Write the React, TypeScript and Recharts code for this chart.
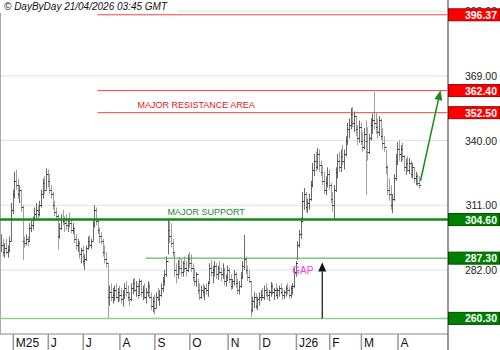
import React from 'react';
import { ComposedChart, Bar, XAxis, YAxis, CartesianGrid, ReferenceLine, ReferenceDot } from 'recharts';

// daily bars as [high, low, close], one small array per month
const apr25 = [[298, 290, 293], [296, 288, 290], [294, 287.5, 292], [296, 289, 290], [293, 287.5, 291], [297, 290, 295], [312, 295, 309], [318, 307, 316]];
const may25 = [[326, 314, 322], [327, 318, 320], [323, 314, 316], [320, 312, 318], [318, 308, 310], [311, 286.5, 295], [297, 292, 294], [298, 293, 296], [297, 292.5, 295], [303, 295, 301], [304, 299, 302], [306, 300, 305], [310, 304, 307], [312, 305, 309], [311, 305, 307], [313, 306, 311], [318, 310, 316], [323, 314, 321], [324, 316, 318], [327.5, 318, 325], [327, 319, 322]];
const jun25 = [[325, 316, 318], [320, 314, 316], [317, 309, 311], [313, 306, 308], [310, 304.5, 306], [307, 291, 297], [303, 296, 301], [307, 300, 305], [309, 302, 304], [306, 299, 303], [307, 300, 302], [305, 299, 304], [307.5, 301, 303], [305, 298.5, 300], [303, 298, 301], [301, 294, 296], [298, 291, 293], [296, 290, 294], [295, 287, 289], [292, 285, 291], [293, 284, 286]];
const jul25 = [[289, 282, 287], [293, 286, 292], [297, 291, 295], [297.5, 292, 293], [296, 291.5, 295], [304, 295, 302], [311, 301, 309], [310, 302, 304], [305, 298, 300], [301, 294, 297], [299, 293.5, 295], [296, 288, 290], [293, 285, 287], [290, 283, 285], [285, 260.5, 270], [275, 266, 272], [276, 268, 270], [274, 267, 271], [275, 268, 273], [276, 269, 270], [274, 267.5, 272], [275, 268, 271]];
const aug25 = [[274, 267, 269], [273, 265.5, 271], [276, 269, 274], [277, 270, 272], [275, 268, 270], [272, 266, 269], [276, 268, 274], [278, 271, 276], [278.5, 272, 273], [277, 270, 275], [276, 269, 271], [278, 271, 277], [277.5, 270, 272], [275, 268.5, 273], [276, 269, 270], [274, 267, 272], [277, 270, 275], [276, 269, 270], [272, 264, 266], [270, 263, 268], [271, 262, 265]];
const sep25 = [[272, 265, 270], [274, 268, 269], [273, 266, 271], [276, 270, 274], [279, 272, 277], [282, 275, 280], [288, 279, 286], [305, 289, 300], [304, 294, 297], [303, 292, 294], [296, 288, 290], [290, 279, 282], [285, 276, 280], [286.5, 278, 284], [287.8, 280, 283], [287, 279, 281], [286, 279, 285], [288, 281, 283], [286, 279, 282], [289, 281, 287], [290, 283, 285]];
const oct25 = [[289, 281, 283], [285, 277, 279], [283, 275, 277], [281, 274.5, 280], [278, 271, 273], [276, 268.6, 270], [275, 269, 273], [276, 270, 272], [275, 268.5, 274], [276, 271, 273], [277, 270, 276], [285, 276, 283], [286.5, 279, 281], [284, 276, 282], [286, 279, 284], [285, 278, 280], [284, 277.5, 283], [286, 280, 281], [283, 277, 280], [285, 278, 282], [283, 275, 277], [280, 274.5, 279], [284, 277, 282]];
const nov25 = [[283, 276, 278], [280, 273, 275], [278, 273.5, 277], [282, 275, 280], [281, 274, 276], [278, 271, 273], [277, 271, 275], [281, 274, 279], [286, 278, 284], [297.7, 282, 287], [288, 280, 282], [284, 277, 279], [282, 276, 277], [277, 261, 264], [270, 263, 268], [272, 265, 270], [271.5, 264.5, 266], [270, 264, 269], [272, 266, 270]];
const dec25 = [[273, 268, 271], [274, 269, 270], [275, 268.5, 273], [276, 270, 272], [274, 268.6, 271], [273, 268, 272], [276.6, 270, 275], [276, 271, 272], [274, 268.6, 273], [276, 270, 271], [274, 269, 273], [275, 270, 274], [276, 271, 272], [274, 268.6, 271], [273, 269, 272], [275, 270, 274], [276, 271, 273], [274.4, 269, 271], [275, 269.5, 274], [276, 271, 275], [283, 274, 281], [286, 279, 285]];
const jan26 = [[295, 286.5, 293], [300, 292, 298], [305.5, 296, 304], [317, 304.5, 313], [318.7, 309, 316], [317, 308, 310], [314, 307.5, 312], [316, 309, 314], [322, 313, 320], [330, 319, 327], [334, 324, 331], [335, 326, 328], [336.7, 327, 334], [336, 326, 329], [331, 324, 326], [329, 320, 322], [326, 316, 318], [324, 315.6, 321], [328, 319, 325], [327, 318, 320]];
const feb26 = [[321, 312, 314], [317, 308, 311], [320, 304.4, 318], [328, 317, 326], [334, 323, 331], [335, 326, 328], [336, 325.9, 333], [338, 329, 331], [336, 327, 334], [342, 333, 340], [348, 338, 345], [350, 341, 347], [354.6, 345, 352], [355, 346, 348], [353, 343.8, 351], [351, 342, 345], [347, 338, 341], [349, 339, 346], [348, 338, 340]];
const mar26 = [[344, 334.9, 337], [345.6, 336, 343], [349, 315.6, 340], [346, 331, 335], [343, 334, 341], [350, 340, 347], [352, 343, 349], [361.7, 345, 348], [352.3, 343, 346], [350, 341, 344], [351, 342, 349], [350, 340.2, 342], [345.6, 336, 339], [342, 334.9, 337], [336, 325, 328], [329, 315.6, 318], [323, 313, 316], [320, 309, 311], [316, 307.5, 314], [325, 313, 323], [334, 322, 331], [339.3, 329, 336]];
const apr26 = [[340.2, 331, 334], [338, 330.4, 336], [339, 331, 333], [333.5, 326, 328], [332, 324.6, 330], [333, 326, 327], [332.2, 325, 330], [331, 323.2, 325], [330, 323, 328], [327.7, 321, 323], [326, 320, 324], [325, 319.5, 321], [324, 318.5, 320]];

const monthBars = [apr25, may25, jun25, jul25, aug25, sep25, oct25, nov25, dec25, jan26, feb26, mar26, apr26];
const monthLabels = ['', 'M25', 'J', 'J', 'A', 'S', 'O', 'N', 'D', 'J26', 'F', 'M', 'A'];

const gridTicks = [398, 369, 340, 311, 282];
const resistance = [396.37, 362.4, 352.5];
const support = [304.6, 287.3, 260.3];

const WIDTH = 500;
const HEIGHT = 350;
const Y_W = 52;
const X_H = 16;
const PLOT_RIGHT = WIDTH - Y_W;
const PLOT_BOTTOM = HEIGHT - X_H;
const SLOTS = 269; // trading days shown incl. blank space on the right
const BAND = PLOT_RIGHT / SLOTS;
const FONT = '"Liberation Sans", Arial, sans-serif';

const data: any[] = [];
const monthStart: Record<number, string> = {};
let prevClose: number | null = null;
monthBars.forEach((m, k) => {
  if (k > 0) monthStart[data.length] = monthLabels[k];
  m.forEach(([h, l, c]) => {
    data.push({ i: data.length, range: [l, h], open: prevClose ?? c, close: c });
    prevClose = c;
  });
});
while (data.length < SLOTS) data.push({ i: data.length });

const boxColors: Record<string, { fill: string; stroke: string }> = {};
resistance.forEach((v) => (boxColors[v.toFixed(2)] = { fill: '#ff0000', stroke: '#a00000' }));
support.forEach((v) => (boxColors[v.toFixed(2)] = { fill: '#008000', stroke: '#004d00' }));

const yTicks = [398, 396.37, 369, 362.4, 352.5, 340, 311, 304.6, 287.3, 282, 260.3];

const OhlcBar = (props: any) => {
  const { x, y, width, height, payload } = props;
  if (!payload || !payload.range || height == null || isNaN(y)) return null;
  const [lo, hi] = payload.range;
  const top = Math.min(y, y + height);
  const h = Math.abs(height);
  const span = hi - lo || 1;
  const py = (v: number) => top + ((hi - v) / span) * h;
  const cx = Math.round(x + width / 2) + 0.5;
  const up = payload.close >= payload.open;
  const col = up ? '#6a6a6a' : '#a0a0a0';
  const yo = Math.round(py(payload.open)) + 0.5;
  const yc = Math.round(py(payload.close)) + 0.5;
  return (
    <g>
      <line x1={cx} x2={cx} y1={top} y2={top + h} stroke={col} strokeWidth={1} />
      <line x1={cx - 1.5} x2={cx} y1={yo} y2={yo} stroke="#333" strokeWidth={1} />
      <line x1={cx} x2={cx + 1.5} y1={yc} y2={yc} stroke="#333" strokeWidth={1} />
    </g>
  );
};

const PriceTick = (props: any) => {
  const { y, payload } = props;
  const key = Number(payload.value).toFixed(2);
  const box = boxColors[key];
  if (box) {
    return (
      <g>
        <rect x={PLOT_RIGHT + 0.5} y={y - 6} width={Y_W - 1} height={12} fill={box.fill} stroke={box.stroke} strokeWidth={1} />
        <text x={WIDTH - 3} y={y + 4} textAnchor="end" fill="#fff" fontWeight="bold" fontSize={10.5} fontFamily={FONT}>{key}</text>
      </g>
    );
  }
  return <text x={WIDTH - 3} y={y + 4} textAnchor="end" fill="#222" fontSize={10.5} fontFamily={FONT}>{key}</text>;
};

const MonthTick = (props: any) => {
  const { x, payload } = props;
  const i = payload.value;
  const left = x - BAND / 2;
  if (i === SLOTS - 1) {
    return <line x1={x + BAND / 2} x2={x + BAND / 2} y1={PLOT_BOTTOM} y2={HEIGHT} stroke="#333" strokeWidth={1} />;
  }
  const label = monthStart[i];
  if (label === undefined) return <g />;
  return (
    <g>
      <line x1={left} x2={left} y1={PLOT_BOTTOM} y2={HEIGHT} stroke="#999" strokeWidth={1.5} />
      <text x={left + 2.5} y={HEIGHT - 3} fill="#111" fontSize={12} fontFamily={FONT}>{label}</text>
    </g>
  );
};

const Arrow = (props: any) => {
  const { x1, y1, x2, y2, stroke, head = 9, half = 4, strokeWidth = 1.2 } = props;
  if ([x1, y1, x2, y2].some((v) => v == null || isNaN(v))) return null;
  const dx = x2 - x1;
  const dy = y2 - y1;
  const len = Math.sqrt(dx * dx + dy * dy) || 1;
  const ux = dx / len;
  const uy = dy / len;
  const bx = x2 - ux * head;
  const by = y2 - uy * head;
  const pts = `${x2},${y2} ${bx - uy * half},${by + ux * half} ${bx + uy * half},${by - ux * half}`;
  return (
    <g>
      <line x1={x1} y1={y1} x2={bx} y2={by} stroke={stroke} strokeWidth={strokeWidth} />
      <polygon points={pts} fill={stroke} />
    </g>
  );
};

const note = (text: string, color: string, size = 9) => (p: any) => (
  <text x={p.cx} y={p.cy} fill={color} fontSize={size} fontFamily={FONT}>{text}</text>
);

export default function App() {
  return (
    <div style={{ position: 'absolute', left: 0, top: 0, width: WIDTH, height: HEIGHT, background: '#fff' }}>
      <ComposedChart width={WIDTH} height={HEIGHT} data={data} margin={{ top: 0, right: 0, bottom: 0, left: 0 }} barCategoryGap={0}>
        <CartesianGrid horizontal vertical={false} stroke="#e2e2e2" horizontalValues={gridTicks} />
        <XAxis dataKey="i" type="category" interval={0} height={X_H} tickLine={false} axisLine={{ stroke: '#888' }} tick={<MonthTick />} />
        <YAxis orientation="right" width={Y_W} domain={[253.3, 403]} allowDataOverflow ticks={yTicks} interval={0} tickLine={false} axisLine={{ stroke: '#333' }} tick={<PriceTick />} />
        <ReferenceLine x={0} position="start" stroke="#aaa" strokeWidth={2} />
        <ReferenceLine y={260.3} stroke="#8fcf8f" strokeWidth={1.5} />
        <ReferenceLine segment={[{ x: 87, y: 287.3 }, { x: SLOTS - 1, y: 287.3 }]} stroke="#3aaa3a" strokeWidth={1} />
        <ReferenceLine y={304.6} stroke="#138a13" strokeWidth={2.5} />
        <ReferenceLine segment={[{ x: 58, y: 352.5 }, { x: SLOTS - 1, y: 352.5 }]} stroke="#e84848" strokeWidth={1} />
        <ReferenceLine segment={[{ x: 58, y: 362.4 }, { x: SLOTS - 1, y: 362.4 }]} stroke="#e84848" strokeWidth={1} />
        <ReferenceLine segment={[{ x: 58, y: 396.37 }, { x: SLOTS - 1, y: 396.37 }]} stroke="#e84848" strokeWidth={1} />
        <Bar dataKey="range" shape={<OhlcBar />} isAnimationActive={false} />
        <ReferenceLine segment={[{ x: 193, y: 260.3 }, { x: 193, y: 285.3 }]} stroke="#111" shape={(p: any) => <Arrow {...p} stroke="#111" head={9} half={4} strokeWidth={1.2} />} />
        <ReferenceLine segment={[{ x: 252, y: 322 }, { x: 264, y: 362.6 }]} stroke="#1a8a1a" shape={(p: any) => <Arrow {...p} stroke="#1a8a1a" head={10} half={4} strokeWidth={1.5} />} />
        <ReferenceDot x={82} y={354.8} r={0} shape={note('MAJOR RESISTANCE AREA', '#e02020')} />
        <ReferenceDot x={100} y={306.6} r={0} shape={note('MAJOR SUPPORT', '#1a8a1a')} />
        <ReferenceDot x={175} y={280.2} r={0} shape={note('GAP', '#f040f0', 10)} />
      </ComposedChart>
      <div style={{ position: 'absolute', left: 0, top: 0, width: 178, height: 13, background: '#fff', font: `italic 10px ${FONT}`, lineHeight: '13px', paddingLeft: 4, boxSizing: 'border-box', color: '#111', whiteSpace: 'nowrap' }}>
        © DayByDay 21/04/2026 03:45 GMT
      </div>
    </div>
  );
}
